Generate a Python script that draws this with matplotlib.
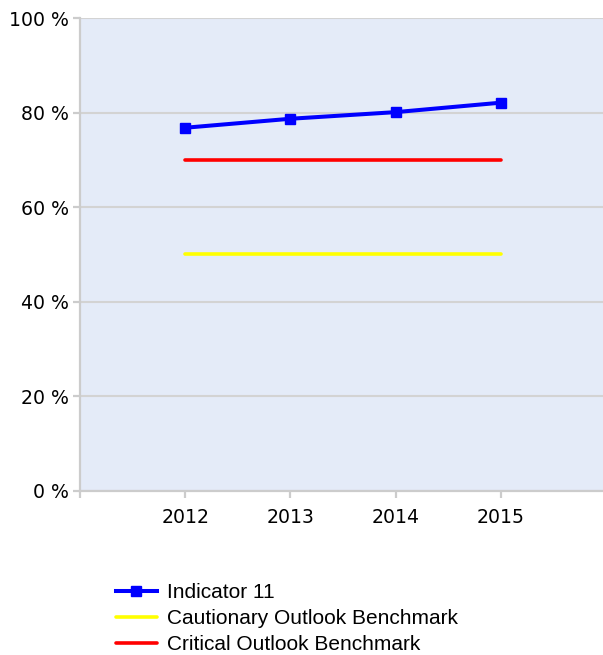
import matplotlib
matplotlib.use("Agg")
import matplotlib.pyplot as plt
from matplotlib.ticker import FixedLocator

# ================== data ==================
years = [2012, 2013, 2014, 2015]
indicator_11 = [76.8, 78.7, 80.1, 82.1]
cautionary = [50, 50, 50, 50]
critical = [70, 70, 70, 70]
y_ticks = [0, 20, 40, 60, 80, 100]
y_tick_labels = [f"{v} %" for v in y_ticks]

grid_color = "#D3D3D3"
bg_color = "#E4EBF8"

fig = plt.figure(figsize=(6.03, 6.55), dpi=100)
ax = fig.add_axes([80 / 603, 1 - 491 / 655, 523 / 603, 473 / 655])
ax.set_facecolor(bg_color)

ax.plot(years, indicator_11, color="#0000FF", lw=2.9, marker="s",
        markersize=7, label="Indicator 11", zorder=4)
ax.plot(years, cautionary, color="#FFFF00", lw=2.6,
        label="Cautionary Outlook Benchmark", zorder=3, solid_capstyle="round")
ax.plot(years, critical, color="#FF0000", lw=2.6,
        label="Critical Outlook Benchmark", zorder=3, solid_capstyle="round")

ax.set_xlim(2011, 2015.97)
ax.set_ylim(0, 100)

ax.set_yticks(y_ticks)
ax.set_yticklabels(y_tick_labels)
ax.set_xticks(years)
ax.set_xticklabels([str(y) for y in years])
ax.xaxis.set_minor_locator(FixedLocator([2011]))

ax.grid(axis="y", color=grid_color, lw=1.5, zorder=1)
ax.set_axisbelow(True)

for s in ["top", "right"]:
    ax.spines[s].set_visible(False)
for s in ["left", "bottom"]:
    ax.spines[s].set_color("#CCCCCC")
    ax.spines[s].set_linewidth(1.6)
    ax.spines[s].set_zorder(2)

ax.tick_params(axis="both", which="both", color="#CCCCCC", width=1.6, length=5,
               labelsize=13.6, labelcolor="#000000")
ax.tick_params(axis="x", pad=7)
ax.tick_params(axis="y", pad=3)

handles, labels = ax.get_legend_handles_labels()
leg = fig.legend(handles, labels, loc="upper left",
                 bbox_to_anchor=(112 / 603, 1 - 579 / 655),
                 frameon=False, handlelength=1.95, handletextpad=0.5,
                 labelspacing=0.34, borderpad=0.1, borderaxespad=0.1,
                 prop={"family": "Liberation Sans", "size": 15})

fig.savefig("out.png", dpi=100, facecolor="white")
